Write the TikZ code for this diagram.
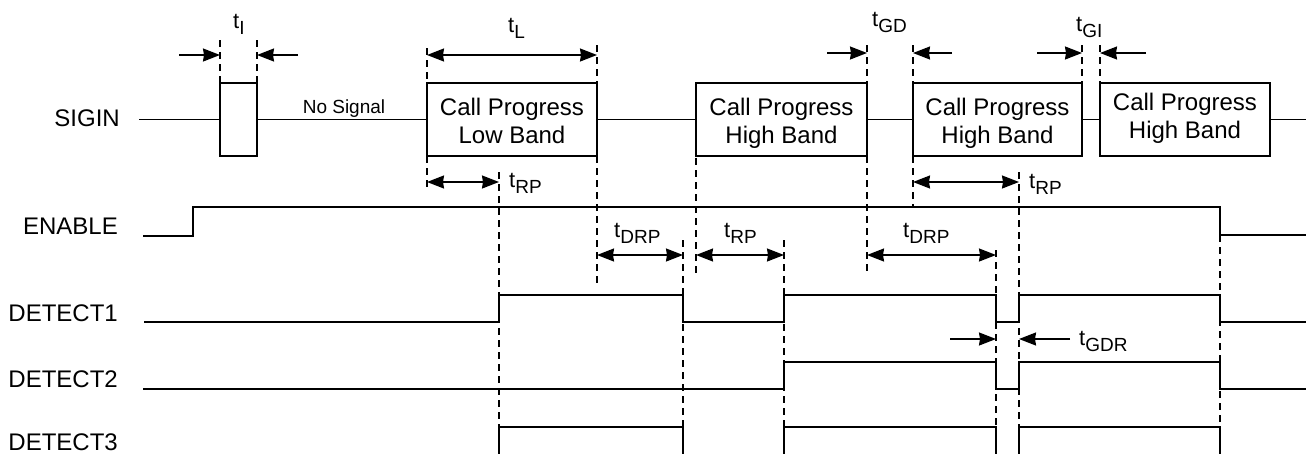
\documentclass[tikz,border=0pt]{standalone}
\usepackage{fontspec}
\setmainfont{Liberation Sans}
\usetikzlibrary{arrows.meta}
\newcommand\tlab[1]{{\fontsize{22}{22}\selectfont t}\raisebox{-6pt}{\fontsize{19}{19}\selectfont #1}}
\begin{document}
\begin{tikzpicture}[x=1pt,y=-1pt,
  wave/.style={line width=1.6pt},
  guide/.style={line width=1.2pt, dash pattern=on 7pt off 5pt},
  sigbox/.style={draw, line width=1.6pt, inner sep=0pt, minimum height=73pt},
  tip/.tip={Stealth[length=17pt,width=13pt,inset=1pt]},
  dimboth/.style={line width=1.6pt, tip-tip},
  dimone/.style={line width=1.6pt, -tip},
  siglab/.style={anchor=base east, inner sep=0pt, font=\fontsize{24}{28}\selectfont},
  boxtxt/.style={anchor=base, inner sep=0pt, font=\fontsize{24}{28}\selectfont},
  tlabel/.style={anchor=base west, inner sep=0pt}
]
\useasboundingbox (0,0) rectangle (1308,453);

% ---------- signal names
\node[siglab] (nSIG) at (120,126) {SIGIN};
\node[siglab] (nEN)  at (118,234) {ENABLE};
\node[siglab] (nD1)  at (118,321) {DETECT1};
\node[siglab] (nD2)  at (118,387) {DETECT2};
\node[siglab] (nD3)  at (118,450) {DETECT3};

% ---------- SIGIN boxes
\node[sigbox, minimum width=37pt]  (p0)  at (238.5,119.5) {};
\node[sigbox, minimum width=170pt] (lb)  at (512,119.5) {};
\node[sigbox, minimum width=171pt] (hb1) at (781.5,119.5) {};
\node[sigbox, minimum width=169pt] (hb2) at (997.5,119.5) {};
\node[sigbox, minimum width=170pt] (hb3) at (1185,119.5) {};

\node[boxtxt] (lbt1) at (512,115) {Call Progress};
\node[boxtxt] (lbt2) at (512,143) {Low Band};
\node[boxtxt] (h1t1) at (781.5,115) {Call Progress};
\node[boxtxt] (h1t2) at (781.5,143) {High Band};
\node[boxtxt] (h2t1) at (997.5,115) {Call Progress};
\node[boxtxt] (h2t2) at (997.5,143) {High Band};
\node[boxtxt] (h3t1) at (1185,110) {Call Progress};
\node[boxtxt] (h3t2) at (1185,138) {High Band};

\node[anchor=base, inner sep=0pt, font=\fontsize{19}{22}\selectfont] (nosig) at (344,113) {No Signal};

\coordinate (s0) at (139,119.5);
\coordinate (s1) at (1306,119.5);
\draw[wave] (s0) -- (p0.west) (p0.east) -- (lb.west) (lb.east) -- (hb1.west)
  (hb1.east) -- (hb2.west) (hb2.east) -- (hb3.west) (hb3.east) -- (s1);

% ---------- guides (dashed)
\draw[guide] (220,40) -- (220,83);
\draw[guide] (257,40) -- (257,83);
\draw[guide] (427,48) -- (427,83);
\draw[guide] (427,156) -- (427,188);
\draw[guide] (597,45) -- (597,83);
\draw[guide] (597,156) -- (597,284);
\draw[guide] (499,172) -- (499,455);
\draw[guide] (683,240) -- (683,455);
\draw[guide] (696,158) -- (696,274);
\draw[guide] (784,240) -- (784,455);
\draw[guide] (867,45) -- (867,83);
\draw[guide] (867,156) -- (867,274);
\draw[guide] (913,45) -- (913,83);
\draw[guide] (913,156) -- (913,208);
\draw[guide] (996,250) -- (996,455);
\draw[guide] (1019,172) -- (1019,455);
\draw[guide] (1082,45) -- (1082,83);
\draw[guide] (1100,45) -- (1100,83);
\draw[guide] (1220,235) -- (1220,455);

% ---------- waveforms
\draw[wave] (143,236) -- (193,236) -- (193,207) -- (1220,207) -- (1220,235) -- (1306,235);
\draw[wave] (144,322) -- (499,322) -- (499,295) -- (683,295) -- (683,322) -- (784,322)
  -- (784,295) -- (996,295) -- (996,322) -- (1019,322) -- (1019,295) -- (1220,295)
  -- (1220,322) -- (1306,322);
\draw[wave] (143,389) -- (784,389) -- (784,362) -- (996,362) -- (996,389) -- (1019,389)
  -- (1019,362) -- (1220,362) -- (1220,389) -- (1306,389);
\draw[wave] (499,456) -- (499,427) -- (683,427) -- (683,456);
\draw[wave] (784,456) -- (784,427) -- (996,427) -- (996,456);
\draw[wave] (1019,456) -- (1019,427) -- (1220,427) -- (1220,456);

% ---------- dimension arrows
\draw[dimone] (179,55) -- (220,55);
\draw[dimone] (298,55) -- (257,55);
\draw[dimboth] (427,55) -- (597,55);
\draw[dimone] (827,53) -- (867,53);
\draw[dimone] (952,53) -- (913,53);
\draw[dimone] (1037,53) -- (1082,53);
\draw[dimone] (1146,53) -- (1100,53);
\draw[dimboth] (427,182) -- (499,182);
\draw[dimboth] (913,182) -- (1019,182);
\draw[dimboth] (597,255) -- (683,255);
\draw[dimboth] (696,255) -- (784,255);
\draw[dimboth] (867,255) -- (996,255);
\draw[dimone] (950,339) -- (996,339);
\draw[dimone] (1070,339) -- (1019,339);

% ---------- timing labels
\node[tlabel] (tI)   at (233,28)  {\tlab{I}};
\node[tlabel] (tL)   at (508,32)  {\tlab{L}};
\node[tlabel] (tGD)  at (872,26)  {\tlab{GD}};
\node[tlabel] (tGI)  at (1076,31) {\tlab{GI}};
\node[tlabel] (tRP1) at (509,187) {\tlab{RP}};
\node[tlabel] (tRP2) at (1029,188) {\tlab{RP}};
\node[tlabel] (tDRP1) at (614,237) {\tlab{DRP}};
\node[tlabel] (tRP3) at (724,237) {\tlab{RP}};
\node[tlabel] (tDRP2) at (903,237) {\tlab{DRP}};
\node[tlabel] (tGDR) at (1079,345) {\tlab{GDR}};
\end{tikzpicture}
\end{document}
